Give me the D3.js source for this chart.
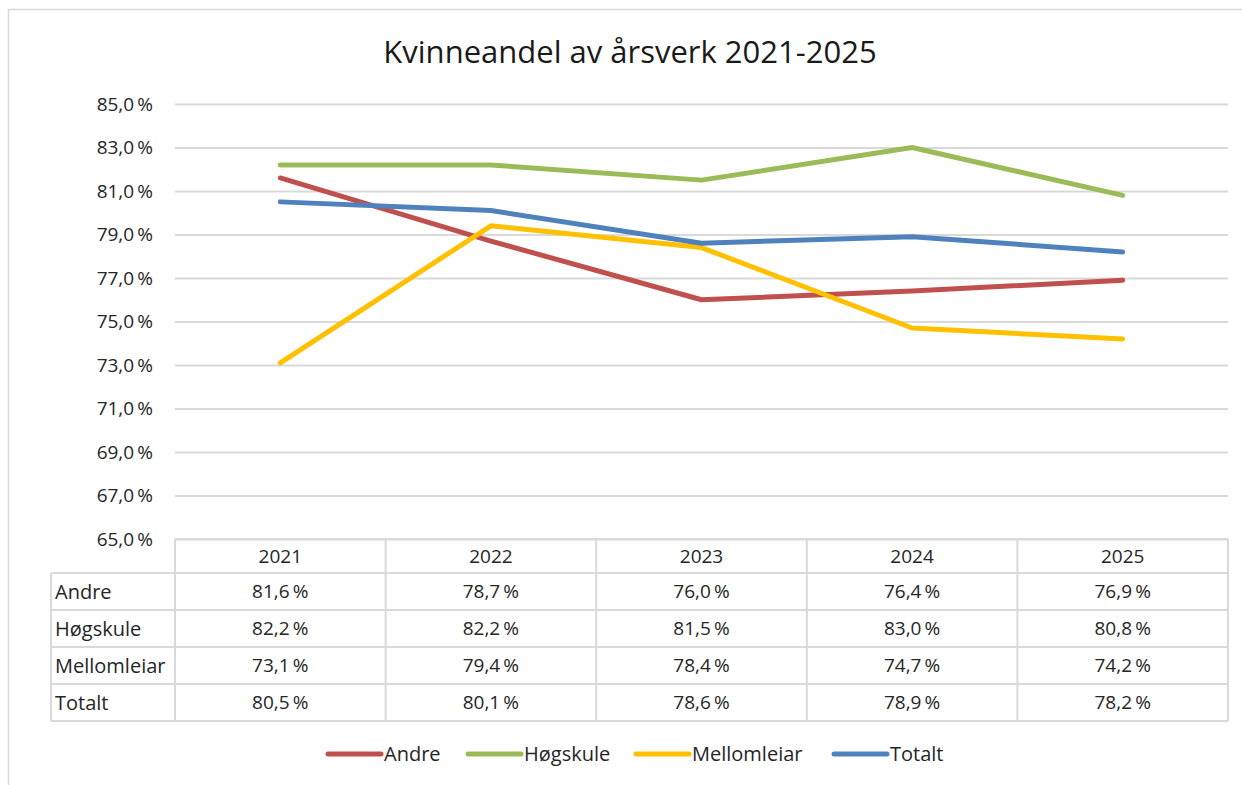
<!DOCTYPE html>
<html>
<head>
<meta charset="utf-8">
<script src="https://cdn.jsdelivr.net/npm/d3@7"></script>
<style>
  body { margin: 0; background: #fff; }
  svg { display: block; font-family: "Open Sans", "Liberation Sans", sans-serif; }
</style>
</head>
<body>
<div id="chart"></div>
<script>
const years = ["2021", "2022", "2023", "2024", "2025"];
const seriesNames = ["Andre", "Høgskule", "Mellomleiar", "Totalt"];
const andre = [81.6, 78.7, 76.0, 76.4, 76.9];
const hogskule = [82.2, 82.2, 81.5, 83.0, 80.8];
const mellomleiar = [73.1, 79.4, 78.4, 74.7, 74.2];
const totalt = [80.5, 80.1, 78.6, 78.9, 78.2];
const yTicks = [65, 67, 69, 71, 73, 75, 77, 79, 81, 83, 85];
const colors = ["#C0504D", "#9BBB59", "#FFC000", "#4F81BD"];

const series = seriesNames.map((name, i) => ({
  name,
  values: [andre, hogskule, mellomleiar, totalt][i],
  color: colors[i],
}));

const width = 1242, height = 785;
const plot = { left: 175, right: 1228, top: 104, bottom: 539 };
const rowH = 37, headerH = 34, labelLeft = 51;
const fontSize = 19;
const textColor = "#262626";

const fmt = (v) => d3.format(".1f")(v).replace(".", ",") + "\u2009%";

const svg = d3.select("#chart").append("svg")
  .attr("width", width).attr("height", height);

// ramme rundt diagrammet
svg.append("rect")
  .attr("x", 8.5).attr("y", 9.5)
  .attr("width", 1260).attr("height", 800)
  .attr("fill", "none").attr("stroke", "#d9d9d9").attr("stroke-width", 1.5);

svg.append("text")
  .attr("x", 630).attr("y", 63)
  .attr("text-anchor", "middle")
  .attr("font-size", 31).attr("fill", "#1a1a1a")
  .text("Kvinneandel av årsverk 2021-2025");

const x = d3.scaleBand().domain(years).range([plot.left, plot.right]);
const y = d3.scaleLinear().domain([65, 85]).range([plot.bottom, plot.top]);

// rutenett og y-akse
const yAxis = svg.append("g")
  .attr("transform", `translate(${plot.left},0)`)
  .call(d3.axisLeft(y).tickValues(yTicks)
    .tickSize(-(plot.right - plot.left)).tickPadding(22).tickFormat(fmt));
yAxis.select(".domain").remove();
yAxis.selectAll(".tick line").attr("stroke", "#d9d9d9").attr("stroke-width", 2);
yAxis.selectAll(".tick text").attr("font-size", fontSize).attr("fill", textColor)
  .attr("font-family", "Open Sans, sans-serif");

// linjer
const line = d3.line()
  .x((d, i) => x(years[i]) + x.bandwidth() / 2)
  .y((d) => y(d));

svg.selectAll(".serie")
  .data(series)
  .enter()
  .append("path")
  .attr("class", "serie")
  .attr("d", (d) => line(d.values))
  .attr("fill", "none")
  .attr("stroke", (d) => d.color)
  .attr("stroke-width", 5)
  .attr("stroke-linecap", "round")
  .attr("stroke-linejoin", "round");

// datatabell
const table = svg.append("g");
const gridColor = "#d9d9d9";
const tableBottom = plot.bottom + headerH + rowH * series.length;

// horisontale linjer
table.append("line")
  .attr("x1", plot.left).attr("x2", plot.right)
  .attr("y1", plot.bottom).attr("y2", plot.bottom);
d3.range(series.length + 1).forEach((i) => {
  const yy = plot.bottom + headerH + rowH * i;
  table.append("line")
    .attr("x1", labelLeft).attr("x2", plot.right)
    .attr("y1", yy).attr("y2", yy);
});
// vertikale linjer
years.forEach((yr) => {
  table.append("line")
    .attr("x1", x(yr)).attr("x2", x(yr))
    .attr("y1", plot.bottom).attr("y2", tableBottom);
});
table.append("line")
  .attr("x1", plot.right).attr("x2", plot.right)
  .attr("y1", plot.bottom).attr("y2", tableBottom);
table.append("line")
  .attr("x1", labelLeft).attr("x2", labelLeft)
  .attr("y1", plot.bottom + headerH).attr("y2", tableBottom);
table.selectAll("line").attr("stroke", gridColor).attr("stroke-width", 2);

table.selectAll(".year")
  .data(years)
  .enter()
  .append("text")
  .attr("x", (d) => x(d) + x.bandwidth() / 2)
  .attr("y", plot.bottom + headerH / 2)
  .attr("dy", "0.35em")
  .attr("text-anchor", "middle")
  .attr("font-size", fontSize).attr("fill", textColor)
  .text((d) => d);

series.forEach((s, i) => {
  const cy = plot.bottom + headerH + rowH * i + rowH / 2;
  table.append("text")
    .attr("x", labelLeft + 4).attr("y", cy).attr("dy", "0.35em")
    .attr("font-size", fontSize + 1).attr("fill", textColor)
    .text(s.name);
  table.selectAll(null)
    .data(s.values)
    .enter()
    .append("text")
    .attr("x", (d, j) => x(years[j]) + x.bandwidth() / 2)
    .attr("y", cy).attr("dy", "0.35em")
    .attr("text-anchor", "middle")
    .attr("font-size", fontSize).attr("fill", textColor)
    .text((d) => fmt(d));
});

// forklaring
const legendX = [328, 468, 636, 834];
const legend = svg.append("g").attr("transform", "translate(0,754)");
const item = legend.selectAll(".item")
  .data(series)
  .enter()
  .append("g")
  .attr("transform", (d, i) => `translate(${legendX[i]},0)`);
item.append("line")
  .attr("x1", 0).attr("x2", 53)
  .attr("stroke", (d) => d.color)
  .attr("stroke-width", 5)
  .attr("stroke-linecap", "round");
item.append("text")
  .attr("x", 56).attr("dy", "0.35em")
  .attr("font-size", fontSize + 1).attr("fill", textColor)
  .text((d) => d.name);
</script>
</body>
</html>
